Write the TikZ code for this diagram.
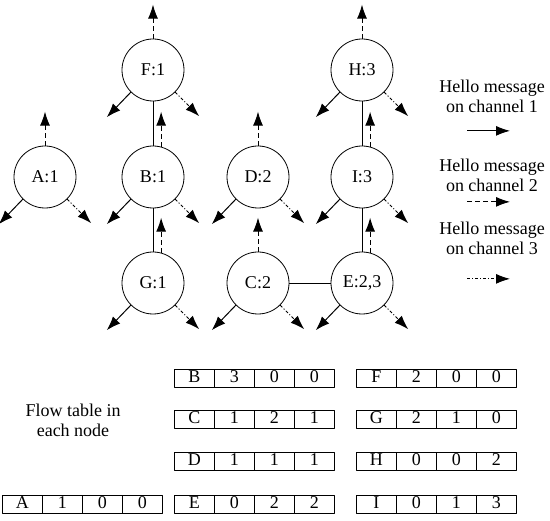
\documentclass[tikz,border=0pt]{standalone}
\usepackage{fontspec}
\setmainfont{Liberation Serif}
\usetikzlibrary{arrows.meta,positioning}
\tikzset{
  every picture/.style={font=\fontsize{18}{20}\selectfont, line join=round},
  site/.style={circle, draw, line width=0.8pt, minimum size=62pt, inner sep=0pt},
  link/.style={line width=0.9pt},
  ch1/.style={-{Latex[length=14pt,width=10pt]}, line width=1pt},
  ch2/.style={-{Latex[length=14pt,width=10pt]}, line width=1pt, dash pattern=on 5pt off 3pt},
  ch3/.style={-{Latex[length=14pt,width=10pt]}, line width=1pt, dash pattern=on 3pt off 2pt on 1pt off 2pt},
  cell/.style={draw, line width=0.8pt, minimum width=40pt, minimum height=18pt, inner sep=0pt, anchor=west, text height=11pt, text depth=1pt},
}
% one row of a flow table: name, x, y, entries
\newcommand{\flowrow}[4]{%
  \foreach \v [count=\k] in {#4}
    \node[cell] (#1-\k) at ({#2+(\k-1)*40},#3) {\v};
}

\begin{document}
\begin{tikzpicture}[x=1pt,y=-1pt]
\useasboundingbox (0,0) rectangle (550,521);
% nodes
\node[site] (F) at (153,70) {F:1};
\node[site] (B) at (153,177) {B:1};
\node[site] (G) at (153,283) {G:1};
\node[site] (A) at (45,177) {A:1};
\node[site] (D) at (258,177) {D:2};
\node[site] (C) at (258,283) {C:2};
\node[site] (H) at (362,70) {H:3};
\node[site] (I) at (362,177) {I:3};
\node[site] (E) at (362,283) {E:2,3};
% links
\draw[link] (F)--(B) (B)--(G) (H)--(I) (I)--(E) (C)--(E);
% hello messages
\foreach \n in {A,F,D,C,H}
  \draw[ch2] (\n.north)--++(0,-34);
\foreach \n in {B,G,I,E}
  \draw[ch2] (\n.75)--++(0,-35);
\foreach \n in {A,F,B,G,D,C,H,I,E}{
  \draw[ch1] (\n.225)--++(-24,25);
  \draw[ch3] (\n.-45)--++(24,24);
}
% legend
\node[align=center] (leg1) at (492,96) {Hello message\\on channel 1};
\node[align=center] (leg2) at (492,175) {Hello message\\on channel 2};
\node[align=center] (leg3) at (492,238) {Hello message\\on channel 3};
\draw[ch1] ([xshift=-25pt,yshift=-15pt]leg1.south)--++(43,0);
\draw[ch2] ([xshift=-25pt,yshift=-7pt]leg2.south)--++(43,0);
\draw[ch3] ([xshift=-25pt,yshift=-21pt]leg3.south)--++(43,0);
% flow tables
\node[align=center] (cap) at (73,420) {Flow table in\\each node};
\flowrow{tB}{174}{378}{B,3,0,0}
\flowrow{tC}{174}{419}{C,1,2,1}
\flowrow{tD}{174}{461}{D,1,1,1}
\flowrow{tE}{174}{504}{E,0,2,2}
\flowrow{tF}{356}{378}{F,2,0,0}
\flowrow{tG}{356}{419}{G,2,1,0}
\flowrow{tH}{356}{461}{H,0,0,2}
\flowrow{tI}{356}{504}{I,0,1,3}
\flowrow{tA}{2}{504}{A,1,0,0}
\end{tikzpicture}
\end{document}
